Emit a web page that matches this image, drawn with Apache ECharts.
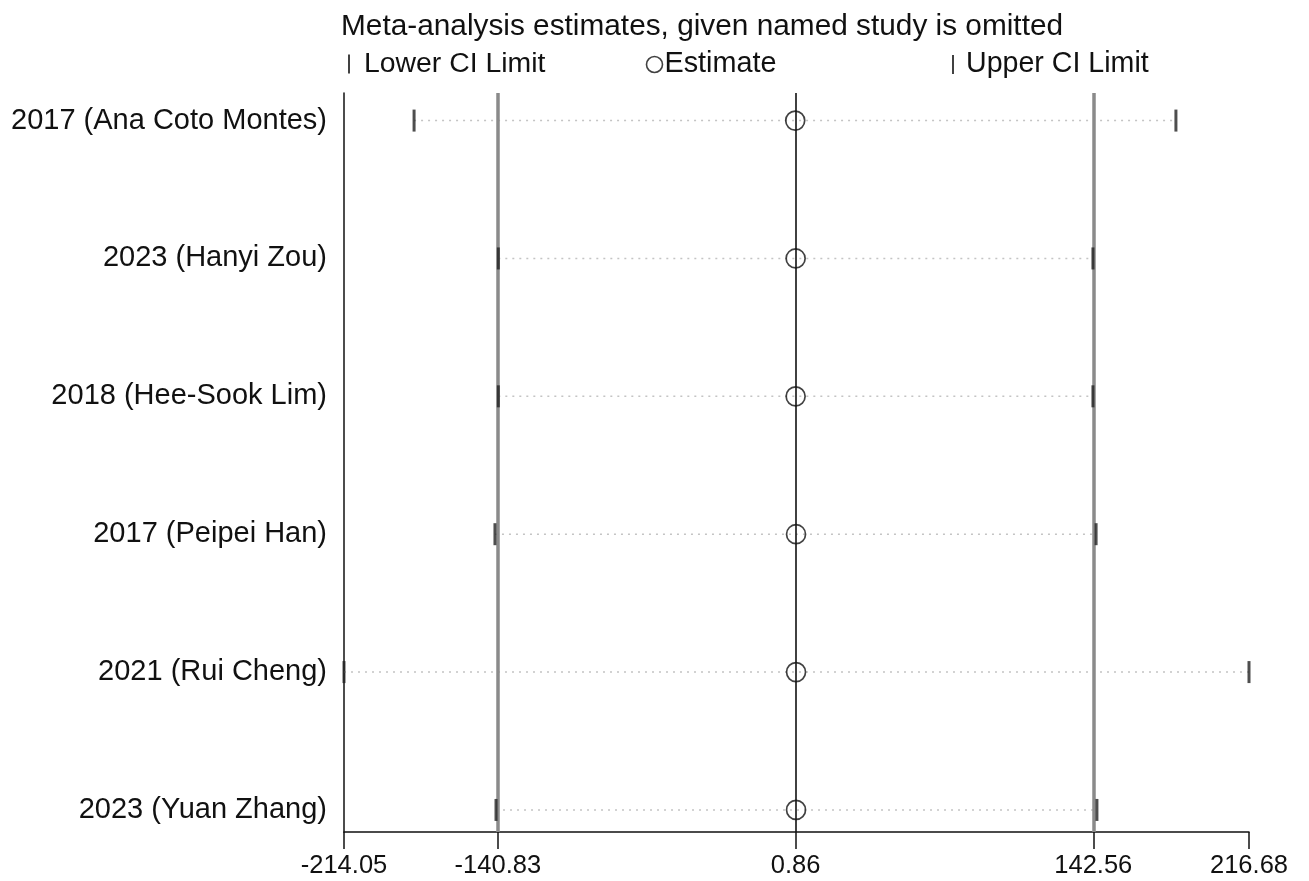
<!DOCTYPE html>
<html>
<head>
<meta charset="utf-8">
<script src="https://cdn.jsdelivr.net/npm/echarts@6/dist/echarts.min.js"></script>
<style>html,body{margin:0;padding:0;background:#fff}#c{width:1309px;height:881px}</style>
</head>
<body>
<div id="c"></div>
<script>
const studies = ['2017 (Ana Coto Montes)', '2023 (Hanyi Zou)', '2018 (Hee-Sook Lim)', '2017 (Peipei Han)', '2021 (Rui Cheng)', '2023 (Yuan Zhang)'];
const lowerCI = [-180.7, -140.6, -140.6, -142.2, -214.05, -141.7];
const estimate = [0.7, 0.9, 0.9, 1.1, 1.1, 1.1];
const upperCI = [181.9, 142.4, 142.4, 143.9, 216.68, 144.3];
const xTicks = [-214.05, -140.83, 0.86, 142.56, 216.68];
const refLines = [-140.83, 0.86, 142.56];

const FONT = '"Liberation Sans", Arial, sans-serif';
const chart = echarts.init(document.getElementById('c'), null, {renderer: 'canvas'});

const idx = studies.map((s, i) => i);
const option = {
  backgroundColor: '#ffffff',
  animation: false,
  textStyle: {fontFamily: FONT},
  title: {
    text: 'Meta-analysis estimates, given named study is omitted',
    left: 336, top: 7,
    textStyle: {fontSize: 29.8, fontWeight: 'normal', color: '#111', fontFamily: FONT}
  },
  legend: [
    {left: 343, top: 45, data: ['Lower CI Limit'], icon: 'rect', itemWidth: 2, itemHeight: 19,
     itemStyle: {color: '#111'},
     textStyle: {fontSize: 28.4, color: '#111', fontFamily: FONT, padding: [0, 0, 0, 9]}},
    {left: 639, top: 45, data: ['Estimate'], icon: 'circle', itemWidth: 16, itemHeight: 16,
     itemStyle: {color: 'none', borderColor: '#111', borderWidth: 1.6},
     textStyle: {fontSize: 28.8, color: '#111', fontFamily: FONT, padding: [0, 0, 0, -3]}},
    {left: 947, top: 45, data: ['Upper CI Limit'], icon: 'rect', itemWidth: 2, itemHeight: 19,
     itemStyle: {color: '#111'},
     textStyle: {fontSize: 28.6, color: '#111', fontFamily: FONT, padding: [0, 0, 0, 7]}}
  ],
  grid: {left: 344, right: 60, top: 93, bottom: 49, containLabel: false},
  xAxis: {
    type: 'value', min: -214.05, max: 216.68,
    axisLine: {show: true, onZero: false, lineStyle: {color: '#111', width: 1.5}},
    axisTick: {show: true, length: 17, customValues: xTicks, lineStyle: {color: '#111', width: 1.5}},
    axisLabel: {customValues: xTicks, fontSize: 25.5, color: '#111', margin: 21, fontFamily: FONT,
      formatter: v => xTicks.reduce((a, b) => Math.abs(b - v) < Math.abs(a - v) ? b : a).toFixed(2)},
    splitLine: {show: false}
  },
  yAxis: {
    type: 'value', inverse: true, min: -0.2, max: 5.16,
    axisLine: {show: true, onZero: false, lineStyle: {color: '#111', width: 1.5}},
    axisTick: {show: false},
    axisLabel: {customValues: idx, fontSize: 29, color: '#111', margin: 17, fontFamily: FONT,
      formatter: v => studies[Math.round(v)] || ''},
    splitLine: {show: false}
  },
  series: [
    {
      type: 'custom', name: 'range', silent: true, z: 1,
      data: idx.map(i => [lowerCI[i], upperCI[i], i]),
      encode: {x: [0, 1], y: 2},
      renderItem: (params, api) => {
        const p1 = api.coord([api.value(0), api.value(2)]);
        const p2 = api.coord([api.value(1), api.value(2)]);
        return {type: 'line', shape: {x1: p1[0], y1: p1[1], x2: p2[0], y2: p2[1]},
          style: {stroke: '#c4c4c4', lineWidth: 1.5, lineDash: [2, 5]}};
      }
    },
    {
      type: 'scatter', name: 'Lower CI Limit', z: 4,
      symbol: 'rect', symbolSize: [3, 22],
      itemStyle: {color: '#222'},
      data: idx.map(i => [lowerCI[i], i])
    },
    {
      type: 'scatter', name: 'Upper CI Limit', z: 4,
      symbol: 'rect', symbolSize: [3, 22],
      itemStyle: {color: '#222'},
      data: idx.map(i => [upperCI[i], i])
    },
    {
      type: 'scatter', name: 'Estimate', z: 5,
      symbol: 'circle', symbolSize: 19,
      itemStyle: {color: 'none', borderColor: '#111', borderWidth: 1.7},
      data: idx.map(i => [estimate[i], i]),
      markLine: {
        silent: true, symbol: 'none', label: {show: false}, z: 3,
        data: refLines.map((v, k) => ({
          xAxis: v,
          lineStyle: k === 1 ? {color: '#111', width: 1.6, type: 'solid'} : {color: '#8a8a8a', width: 3.5, type: 'solid'}
        }))
      }
    }
  ]
};
chart.setOption(option);
</script>
</body>
</html>
